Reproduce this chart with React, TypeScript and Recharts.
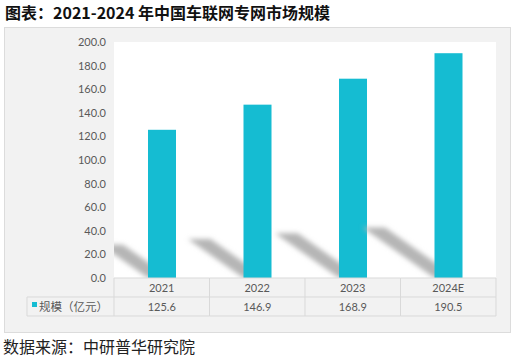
import React from 'react';
import { BarChart, Bar, XAxis, YAxis, CartesianGrid } from 'recharts';

const years = ['2021', '2022', '2023', '2024E'];
const marketSize = [125.6, 146.9, 168.9, 190.5];
const yTicks = [0, 20, 40, 60, 80, 100, 120, 140, 160, 180, 200];
const seriesName = '规模（亿元）';
const titleText = '图表：2021-2024 年中国车联网专网市场规模';
const sourceText = '数据来源：中研普华研究院';

const data = years.map((y, i) => ({ year: y, value: marketSize[i] }));

const W = 516;
const H = 359;
const PLOT_LEFT = 114;
const PLOT_TOP = 42;
const PLOT_RIGHT = 496;
const PLOT_BOTTOM = 278;
const X_AXIS_H = 38;
const BAR_COLOR = '#15bcd2';
const GRID_COLOR = '#d9d9d9';
const TEXT_COLOR = '#595959';
const NUM_FONT = 'Lato, "Noto Sans", sans-serif';
const CJK_FONT = '"Noto Sans CJK SC", sans-serif';

const ShadowBar = (props: any) => {
  const { x, y, width, height, index } = props;
  if (width == null || height == null) return null;
  const bottom = y + height;
  const dx = 0.32 * height;
  const dy = 0.225 * height;
  const sw = width * 0.8;
  const pts = [
    [x, bottom],
    [x + sw, bottom],
    [x + sw - dx, bottom - dy],
    [x - dx, bottom - dy],
  ]
    .map((p) => p.join(','))
    .join(' ');
  const fid = `shblur-${index}`;
  const cid = `shclip-${index}`;
  return (
    <g>
      <defs>
        <filter id={fid} x="-50%" y="-50%" width="200%" height="200%">
          <feGaussianBlur stdDeviation="2.6" />
        </filter>
        <clipPath id={cid}>
          <rect x={PLOT_LEFT} y={PLOT_TOP} width={PLOT_RIGHT - PLOT_LEFT} height={PLOT_BOTTOM - PLOT_TOP} />
        </clipPath>
      </defs>
      <g clipPath={`url(#${cid})`}>
        <polygon points={pts} fill="#b5b5b5" filter={`url(#${fid})`} />
      </g>
      <rect x={x} y={y} width={width} height={height} fill={BAR_COLOR} />
    </g>
  );
};

const TableTick = (props: any) => {
  const { x, y, payload, index } = props;
  const band = (PLOT_RIGHT - PLOT_LEFT) / years.length;
  const half = band / 2;
  const left = x - half;
  const right = x + half;
  const rowH = X_AXIS_H / 2;
  const i = payload?.index ?? index;
  const val = marketSize[i];
  const legendLeft = 27;
  return (
    <g>
      <line x1={left} y1={y} x2={right} y2={y} stroke={GRID_COLOR} />
      <line x1={left} y1={y + rowH} x2={right} y2={y + rowH} stroke={GRID_COLOR} />
      <line x1={left} y1={y + 2 * rowH} x2={right} y2={y + 2 * rowH} stroke={GRID_COLOR} />
      <line x1={left} y1={y} x2={left} y2={y + 2 * rowH} stroke={GRID_COLOR} />
      {i === years.length - 1 && (
        <line x1={right} y1={y} x2={right} y2={y + 2 * rowH} stroke={GRID_COLOR} />
      )}
      <text x={x} y={y + 14} textAnchor="middle" fill={TEXT_COLOR} fontSize={11} fontFamily={NUM_FONT}>
        {payload.value}
      </text>
      <text x={x} y={y + rowH + 14} textAnchor="middle" fill={TEXT_COLOR} fontSize={11} fontFamily={NUM_FONT}>
        {val != null ? val.toFixed(1) : ''}
      </text>
      {i === 0 && (
        <g>
          <line x1={legendLeft} y1={y + rowH} x2={left} y2={y + rowH} stroke={GRID_COLOR} />
          <line x1={legendLeft} y1={y + 2 * rowH} x2={left} y2={y + 2 * rowH} stroke={GRID_COLOR} />
          <line x1={legendLeft} y1={y + rowH} x2={legendLeft} y2={y + 2 * rowH} stroke={GRID_COLOR} />
          <rect x={legendLeft + 5} y={y + rowH + 5} width={5} height={5} fill={BAR_COLOR} />
          <text x={legendLeft + 12} y={y + rowH + 14} fill={TEXT_COLOR} fontSize={11.5} fontFamily={CJK_FONT}>
            {seriesName}
          </text>
        </g>
      )}
    </g>
  );
};

export default function App() {
  return (
    <div style={{ position: 'absolute', left: 0, top: 0, width: W, height: H, background: '#fff', overflow: 'hidden' }}>
      <div
        style={{
          position: 'absolute',
          left: 5,
          top: 1,
          fontFamily: CJK_FONT,
          fontWeight: 700,
          fontSize: 16,
          lineHeight: '22px',
          color: '#111',
          whiteSpace: 'nowrap',
        }}
      >
        {titleText}
      </div>
      <div
        style={{
          position: 'absolute',
          left: 4,
          top: 27,
          width: 505,
          height: 304,
          background: '#f2f2f2',
          border: '1px solid #dcdcdc',
        }}
      />
      <div style={{ position: 'absolute', left: 0, top: 0 }}>
        <BarChart
          width={W}
          height={H}
          data={data}
          margin={{ top: PLOT_TOP, right: W - PLOT_RIGHT, bottom: H - PLOT_BOTTOM - X_AXIS_H, left: 0 }}
          barSize={28}
        >
          <CartesianGrid fill="#ffffff" stroke="none" horizontal={false} vertical={false} />
          <XAxis
            dataKey="year"
            axisLine={false}
            tickLine={false}
            tickSize={0}
            tickMargin={0}
            height={X_AXIS_H}
            interval={0}
            tick={<TableTick />}
          />
          <YAxis
            width={PLOT_LEFT}
            domain={[0, 200]}
            ticks={yTicks}
            interval={0}
            axisLine={false}
            tickLine={false}
            tickFormatter={(v: number) => v.toFixed(1)}
            tick={{ fill: TEXT_COLOR, fontSize: 11, fontFamily: NUM_FONT }}
          />
          <Bar dataKey="value" name={seriesName} isAnimationActive={false} shape={<ShadowBar />} />
        </BarChart>
      </div>
      <div
        style={{
          position: 'absolute',
          left: 3,
          top: 335,
          fontFamily: CJK_FONT,
          fontSize: 16,
          lineHeight: '22px',
          color: '#222',
          whiteSpace: 'nowrap',
        }}
      >
        {sourceText}
      </div>
    </div>
  );
}
